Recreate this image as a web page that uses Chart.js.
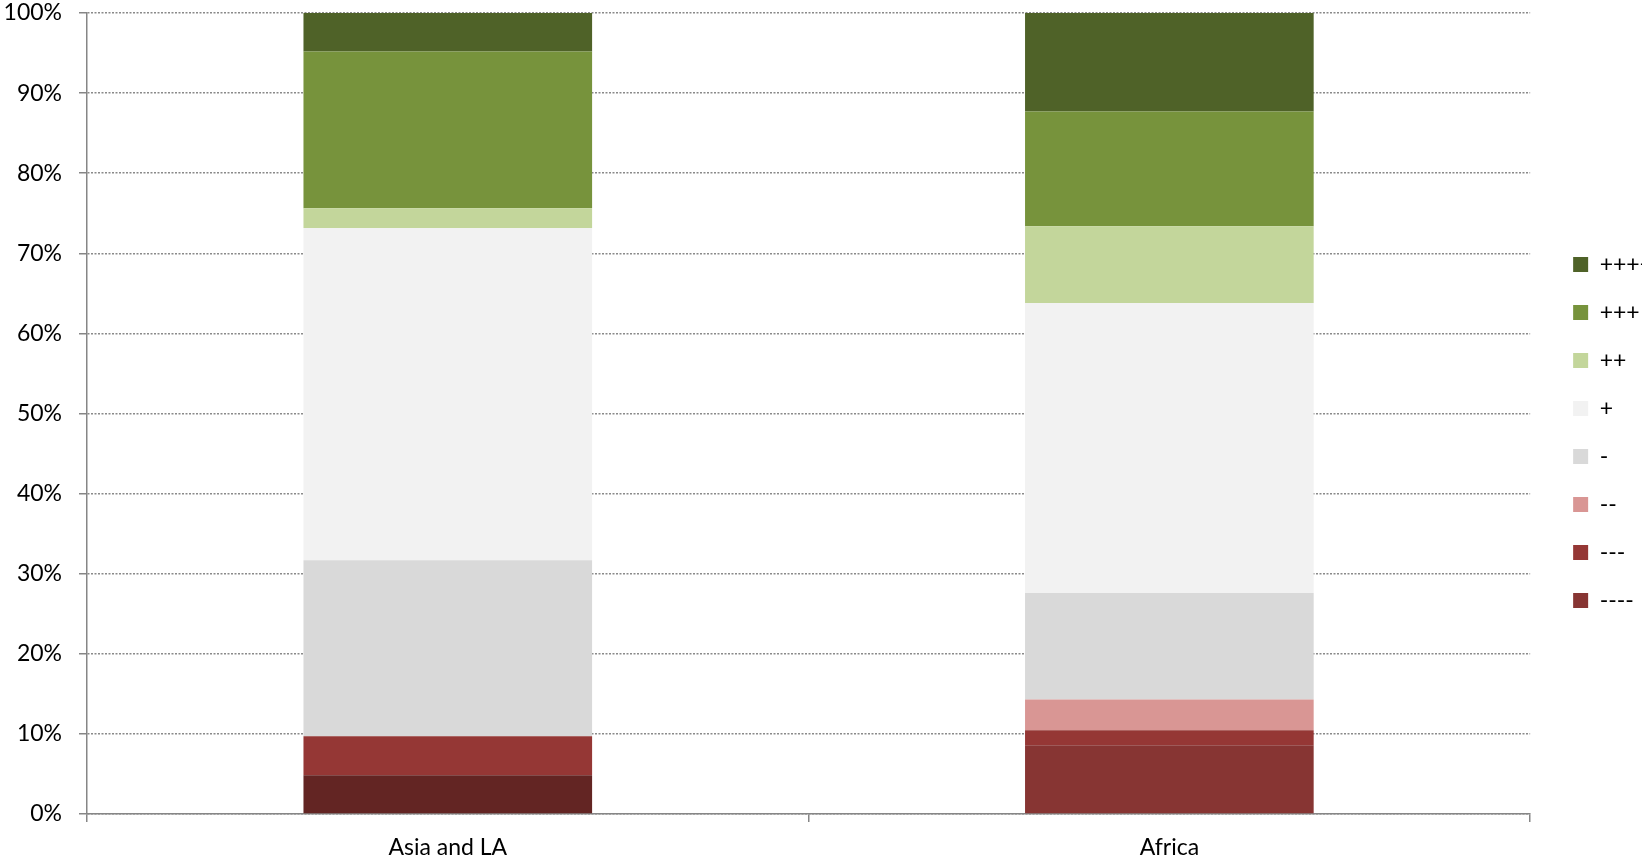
<!DOCTYPE html>
<html>
<head>
<meta charset="utf-8">
<script src="https://cdn.jsdelivr.net/npm/chart.js@4.4.1/dist/chart.umd.min.js"></script>
<style>
  html, body { margin: 0; padding: 0; background: #fff; overflow: hidden; }
</style>
</head>
<body>
<canvas id="grafico" width="1663" height="865"></canvas>
<script>
// Categorías y series (porcentajes)
const categorias = ["Asia and LA", "Africa"];
const etiquetasSerie = ["----", "---", "--", "-", "+", "++", "+++", "++++"];

const muyNegativo = [4.83, 8.57];    // ----
const negativoFuerte = [4.87, 1.88]; // ---
const negativo2 = [0, 3.83];         // --
const negativo = [21.97, 13.31];     // -
const positivo = [41.49, 36.21];     // +
const positivo2 = [2.46, 9.57];      // ++
const positivo3 = [19.56, 14.32];    // +++
const muyPositivo = [4.82, 12.31];   // ++++

const valores = [muyNegativo, negativoFuerte, negativo2, negativo, positivo, positivo2, positivo3, muyPositivo];

const colores = [
  ["#632523", "#873533"],
  "#953735",
  "#D99694",
  "#D9D9D9",
  "#F2F2F2",
  "#C3D69B",
  "#77933C",
  "#4F6228"
];
const coloresLeyenda = ["#873533", "#953735", "#D99694", "#D9D9D9", "#F2F2F2", "#C3D69B", "#77933C", "#4F6228"];

const fuente = { family: "Lato, 'Open Sans', sans-serif", size: 23 };
const gris = "#868686";

const ctx = document.getElementById("grafico").getContext("2d");

new Chart(ctx, {
  type: "bar",
  data: {
    labels: categorias,
    datasets: etiquetasSerie.map((nombre, i) => ({
      label: nombre,
      data: valores[i],
      backgroundColor: colores[i],
      borderWidth: 0,
      categoryPercentage: 1,
      barPercentage: 0.4
    }))
  },
  options: {
    responsive: false,
    animation: false,
    layout: { padding: { left: 4, top: 0, bottom: 0, right: 0 } },
    plugins: {
      tooltip: { enabled: false },
      legend: {
        position: "right",
        reverse: true,
        labels: {
          font: fuente,
          color: "#000",
          boxWidth: 15,
          boxHeight: 15,
          padding: 25,
          // el cuadro de "----" usa el color de Africa, como en el original
          generateLabels: (chart) =>
            Chart.defaults.plugins.legend.labels.generateLabels(chart).map((l) => ({
              ...l,
              fillStyle: coloresLeyenda[l.datasetIndex],
              strokeStyle: coloresLeyenda[l.datasetIndex],
              lineWidth: 0
            }))
        }
      }
    },
    scales: {
      x: {
        stacked: true,
        grid: {
          offset: true,
          drawOnChartArea: false,
          drawTicks: true,
          tickLength: 8,
          color: gris,
          lineWidth: 1.5
        },
        border: { color: gris, width: 1.5 },
        ticks: { font: fuente, color: "#000", padding: 12 },
        afterFit: (escala) => { escala.height = 51; }
      },
      y: {
        stacked: true,
        min: 0,
        max: 100,
        ticks: {
          stepSize: 10,
          font: fuente,
          color: "#000",
          padding: 17,
          callback: (v) => v + "%"
        },
        grid: {
          color: "#8a8a8a",
          lineWidth: 1.5,
          drawTicks: true,
          tickLength: 8,
          tickColor: gris,
          tickWidth: 1.5,
          tickBorderDash: []
        },
        border: { color: gris, width: 1.5, dash: [2, 1.5] },
        afterFit: (escala) => {
          escala.width = 83;
          escala.paddingTop = 13;
        }
      },
      // eje vacío: solo deja hueco entre el área del gráfico y la leyenda
      hueco: {
        type: "linear",
        position: "right",
        display: true,
        grid: { display: false },
        border: { display: false },
        ticks: { display: false },
        afterFit: (escala) => { escala.width = 18; }
      }
    }
  }
});
</script>
</body>
</html>
